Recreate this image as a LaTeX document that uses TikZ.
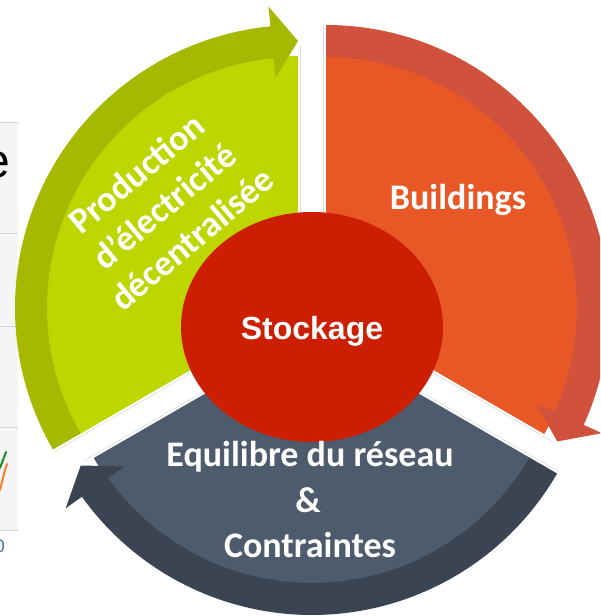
\documentclass[tikz,border=0pt]{standalone}
\usepackage{fontspec}
\setmainfont{Carlito}
\newfontfamily\arialfont{Liberation Sans}
\usetikzlibrary{calc,shapes.geometric}

\definecolor{greenL}{RGB}{190,214,0}
\definecolor{greenD}{RGB}{166,185,0}
\definecolor{orangeL}{RGB}{232,88,38}
\definecolor{orangeD}{RGB}{208,82,60}
\definecolor{slateL}{RGB}{78,91,108}
\definecolor{slateD}{RGB}{58,68,82}
\definecolor{coreRed}{RGB}{204,30,0}
\definecolor{panelGrey}{RGB}{245,245,245}
\definecolor{gridGrey}{RGB}{212,212,212}
\definecolor{curveGreen}{RGB}{30,140,40}
\definecolor{curveOrange}{RGB}{240,130,50}
\definecolor{tickBlue}{RGB}{70,110,170}

% One segment of the cycle: light slice plus curved arrow on its rim.
% #1 centre, #2 tail angle, #3 tip angle, #4 slice colour, #5 arrow colour
\newcommand\cyclesegment[5]{%
  \begin{scope}[shift={#1}]
    \fill[#4] (0,0) -- (#3:252) arc[start angle=#3, end angle=#2, radius=252pt] -- cycle;
    \fill[#5] (#2:283) arc[start angle=#2, end angle=#3+5.6, radius=283pt]
      -- (#3+5.6:303) -- (#3:267) -- (#3+5.6:231) -- (#3+5.6:251)
      arc[start angle=#3+5.6, end angle=#2, radius=251pt] -- cycle;
    \draw[gapline] ($(#3:80)+(#3-90:2.5)$) -- ($(#3:262)+(#3-90:2.5)$);
    \draw[gapline] ($(#2:80)+(#2+90:2.5)$) -- ($(#2:283)+(#2+90:2.5)$);
  \end{scope}}

\begin{document}
\begin{tikzpicture}[x=1pt,y=1pt,
  txt/.style={text=white, font=\bfseries\fontsize{36}{43}\selectfont, inner sep=0, align=center},
  gapline/.style={draw=black!14, line width=0.6pt},
  gridline/.style={draw=gridGrey, line width=0.8pt}]
\useasboundingbox (0,0) rectangle (600,616);
\clip (0,0) rectangle (600,616);

% neighbouring chart panel at the left edge
\fill[panelGrey] (0,86) rectangle (18,494);
\foreach \gy in {494,383,290,189,86}
  \draw[gridline] (0,\gy) -- (18,\gy);
\draw[curveGreen, line width=2pt, line cap=round] (0,148) -- (3,156) -- (6,164);
\draw[curveOrange, line width=2pt, line cap=round] (0,126) -- (3,138) -- (5,146) -- (7,152);
\node[font=\arialfont\fontsize{48}{48}\selectfont, anchor=base east, inner sep=0] (eglyph) at (10,438) {e};
\node[font=\arialfont\fontsize{18}{18}\selectfont, text=tickBlue, anchor=base east, inner sep=0] (tick) at (5,63) {0};

% the three segments
\cyclesegment{(298,308)}{210}{90}{greenL}{greenD}
\cyclesegment{(326,308)}{90}{-30}{orangeL}{orangeD}
\cyclesegment{(312,284)}{330}{210}{slateL}{slateD}

% centre
\node[ellipse, fill=coreRed, inner sep=0, minimum width=262pt, minimum height=230pt] (core) at (312,289) {};
\node[font=\arialfont\bfseries\fontsize{32}{38}\selectfont, text=white, anchor=base, inner sep=0] (stock) at (312,276) {Stockage};

% segment labels
\node[txt, rotate=40] (prod) at (164,410) {Production\\d’électricité\\décentralisée};
\node[txt, anchor=base] (bld) at (458,406) {Buildings};
\node[txt, anchor=base] (eq1) at (310,149) {Equilibre du réseau};
\node[txt, anchor=base] (eq2) at (308,103) {\&};
\node[txt, anchor=base] (eq3) at (310,58) {Contraintes};
\end{tikzpicture}
\end{document}
